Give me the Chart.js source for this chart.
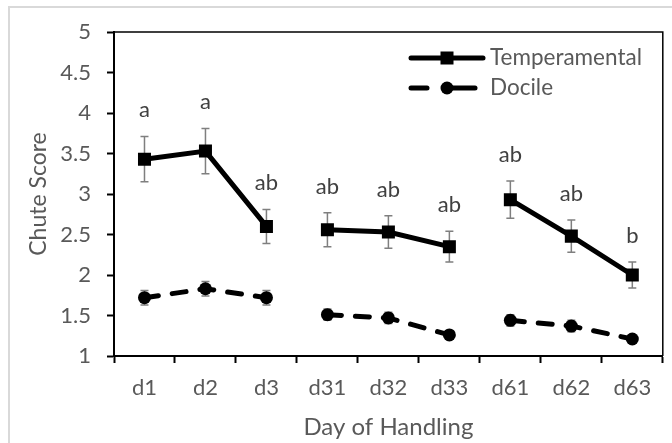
<!DOCTYPE html>
<html><head><meta charset="utf-8">
<script src="https://cdn.jsdelivr.net/npm/chart.js@4.4.1/dist/chart.umd.min.js"></script>
<style>html,body{margin:0;padding:0;background:#fff;}#wrap{width:672px;height:443px;position:relative;}</style>
</head><body><div id="wrap"><canvas id="c" width="672" height="443"></canvas></div>
<script>
const categories = ['d1','d2','d3','d31','d32','d33','d61','d62','d63'];
const temperamental = [3.43,3.53,2.60,2.56,2.53,2.35,2.93,2.48,2.00];
const temperamentalErr = [0.28,0.28,0.21,0.21,0.20,0.19,0.23,0.20,0.16];
const docile = [1.72,1.83,1.72,1.51,1.47,1.26,1.44,1.37,1.21];
const docileErr = [0.09,0.09,0.09,0.07,0.07,0.05,0.07,0.07,0.05];
const letters = ['a','a','ab','ab','ab','ab','ab','ab','b'];
const yTicks = [1,1.5,2,2.5,3,3.5,4,4.5,5];
const seriesNames = ['Temperamental','Docile'];

const FONT = 'Lato';
const GRAY_TXT = '#595959';

// segment break where day numbers are not consecutive
const dayNum = categories.map(c => parseInt(c.slice(1), 10));
const isGap = ctx => dayNum[ctx.p1DataIndex] - dayNum[ctx.p0DataIndex] > 1;

const framePlugin = {
  id: 'frame',
  beforeDraw(chart) {
    const c = chart.ctx;
    c.save();
    c.fillStyle = '#fff';
    c.fillRect(0, 0, chart.width, chart.height);
    c.strokeStyle = '#d9d9d9';
    c.lineWidth = 2;
    c.strokeRect(9, 7, 720, 500);
    c.restore();
  },
  afterDraw(chart) {
    const a = chart.chartArea, c = chart.ctx;
    c.save();
    c.strokeStyle = '#000';
    c.lineWidth = 1.5;
    c.beginPath();
    c.moveTo(a.left, a.top);
    c.lineTo(a.right, a.top);
    c.lineTo(a.right, a.bottom);
    c.stroke();
    // legend
    const lx0 = 411, lx1 = 483, lxm = 447;
    c.strokeStyle = '#000';
    c.fillStyle = '#000';
    c.lineWidth = 5;
    c.lineCap = 'round';
    c.beginPath(); c.moveTo(lx0, 58); c.lineTo(lx1, 58); c.stroke();
    c.fillRect(lxm - 6.5, 58 - 6.5, 13, 13);
    c.beginPath(); c.moveTo(lx0, 88); c.lineTo(427, 88); c.stroke();
    c.beginPath(); c.moveTo(449, 88); c.lineTo(lx1 - 8, 88); c.stroke();
    c.beginPath(); c.arc(lxm, 88, 6.5, 0, Math.PI * 2); c.fill();
    c.font = '22.5px ' + FONT;
    c.fillStyle = GRAY_TXT;
    c.textBaseline = 'middle';
    c.textAlign = 'left';
    c.fillText(seriesNames[0], 490, 58);
    c.fillText(seriesNames[1], 490, 88);
    c.restore();
  }
};

const errPlugin = {
  id: 'errbars',
  beforeDatasetsDraw(chart) {
    const c = chart.ctx, xs = chart.scales.x, ys = chart.scales.y;
    const sets = [[temperamental, temperamentalErr], [docile, docileErr]];
    c.save();
    c.strokeStyle = '#7f7f7f';
    c.lineWidth = 1.5;
    sets.forEach(([vals, errs]) => {
      vals.forEach((v, i) => {
        const x = xs.getPixelForValue(i);
        const yt = ys.getPixelForValue(v + errs[i]);
        const yb = ys.getPixelForValue(v - errs[i]);
        c.beginPath();
        c.moveTo(x, yt); c.lineTo(x, yb);
        c.moveTo(x - 4, yt); c.lineTo(x + 4, yt);
        c.moveTo(x - 4, yb); c.lineTo(x + 4, yb);
        c.stroke();
      });
    });
    c.restore();
  },
  afterDatasetsDraw(chart) {
    const c = chart.ctx, xs = chart.scales.x, ys = chart.scales.y;
    c.save();
    c.font = '22px ' + FONT;
    c.fillStyle = '#404040';
    c.textAlign = 'center';
    c.textBaseline = 'alphabetic';
    letters.forEach((t, i) => {
      const x = xs.getPixelForValue(i);
      const y = ys.getPixelForValue(temperamental[i] + temperamentalErr[i]) - 19;
      c.fillText(t, x, y);
    });
    c.restore();
  }
};

new Chart(document.getElementById('c'), {
  type: 'line',
  data: {
    labels: categories,
    datasets: [
      {
        label: seriesNames[0],
        data: temperamental,
        borderColor: '#000',
        backgroundColor: '#000',
        borderWidth: 5,
        tension: 0,
        pointStyle: 'rect',
        pointRadius: 9.2,
        pointBorderWidth: 0,
        pointBackgroundColor: '#000',
        segment: { borderColor: ctx => isGap(ctx) ? 'rgba(0,0,0,0)' : undefined }
      },
      {
        label: seriesNames[1],
        data: docile,
        borderColor: '#000',
        backgroundColor: '#000',
        borderWidth: 5,
        borderDash: [14, 14],
        borderCapStyle: 'round',
        tension: 0,
        pointStyle: 'circle',
        pointRadius: 6.5,
        pointBorderWidth: 0,
        pointBackgroundColor: '#000',
        segment: { borderColor: ctx => isGap(ctx) ? 'rgba(0,0,0,0)' : undefined }
      }
    ]
  },
  options: {
    responsive: false,
    animation: false,
    layout: { padding: { top: 32, right: 9, left: 0, bottom: 0 } },
    plugins: { legend: { display: false }, tooltip: { enabled: false } },
    scales: {
      x: {
        type: 'category',
        offset: true,
        grid: { display: true, drawOnChartArea: false, drawTicks: true, tickLength: 7, tickColor: '#000', tickWidth: 2, offset: true },
        border: { color: '#000', width: 2 },
        ticks: { color: GRAY_TXT, font: { family: FONT, size: 22 }, padding: 12, maxRotation: 0 },
        title: { display: true, text: 'Day of Handling', color: GRAY_TXT, font: { family: FONT, size: 24 }, padding: { top: 0, bottom: 1 } },
        afterFit: s => { s.height = 87; }
      },
      y: {
        min: 1, max: 5,
        afterBuildTicks: s => { s.ticks = yTicks.map(v => ({ value: v })); },
        grid: { display: true, drawOnChartArea: false, drawTicks: true, tickLength: 7, tickColor: '#000', tickWidth: 2 },
        border: { color: '#000', width: 2 },
        ticks: { color: GRAY_TXT, font: { family: FONT, size: 22 }, padding: 16, callback: v => String(v) },
        title: { display: true, text: 'Chute Score', color: GRAY_TXT, font: { family: FONT, size: 23 }, padding: { top: 25, bottom: 0 } },
        afterFit: s => { s.width = 114; }
      }
    }
  },
  plugins: [framePlugin, errPlugin]
});
</script></body></html>
